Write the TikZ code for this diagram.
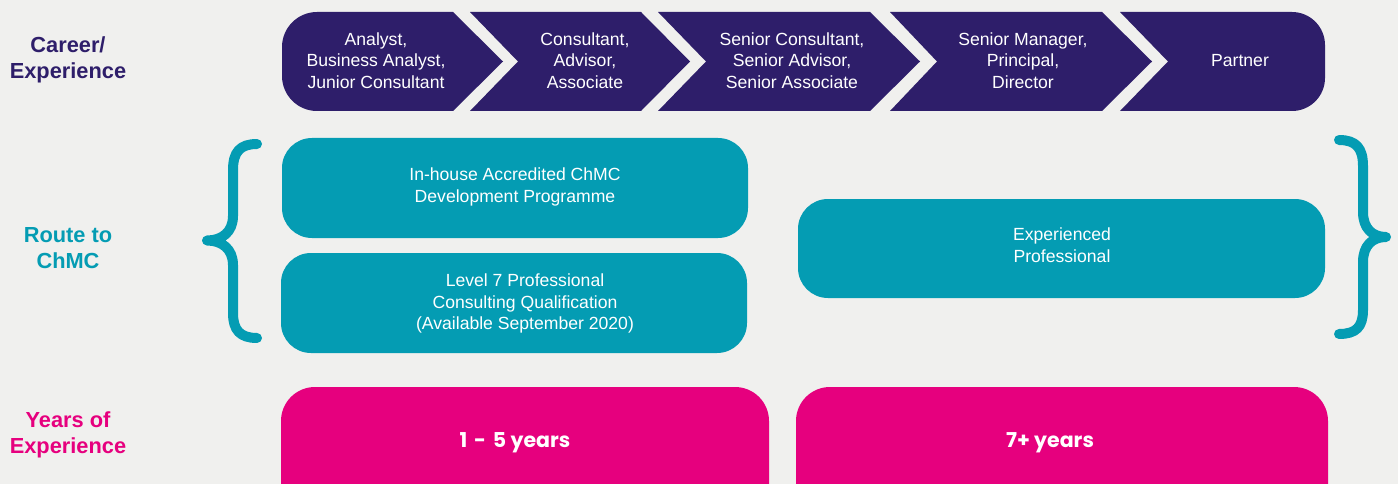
\documentclass[tikz,border=0pt]{standalone}
\usepackage{fontspec}
\setmainfont{Liberation Sans}
\newfontfamily\yearfont{Poppins}
\definecolor{bgc}{HTML}{F0F0EE}
\definecolor{purp}{HTML}{2E1E6A}
\definecolor{teal}{HTML}{049CB3}
\definecolor{pink}{HTML}{E6007E}
\tikzset{
  chev/.style={fill=purp},
  ctext/.style={text=white, align=center, inner sep=0pt, font=\fontsize{17.6}{21.5}\selectfont},
  lbl/.style={align=center, inner sep=0pt, font=\fontsize{21.8}{26}\selectfont\bfseries},
  tealbox/.style={fill=teal, rounded corners=30pt, inner sep=0pt},
  pinkbox/.style={fill=pink, rounded corners=34pt, inner sep=0pt},
  ytext/.style={text=white, inner sep=0pt, font=\yearfont\fontsize{20.5}{24}\selectfont\bfseries},
  bracestyle/.style={draw=teal, line width=10pt, line cap=round, line join=round}
}
\begin{document}
\begin{tikzpicture}[x=1pt,y=-1pt]
\fill[bgc] (0,0) rectangle (1398,484);
\useasboundingbox (0,0) rectangle (1398,484);
\clip (0,0) rectangle (1398,484);
% chevrons
\fill[chev] (453,12) -- (503,61.5) -- (453,111) -- (317,111)
  .. controls (297.7,111) and (282,95.3) .. (282,76) -- (282,47)
  .. controls (282,27.7) and (297.7,12) .. (317,12) -- cycle;
\fill[chev] (470,12) -- (641,12) -- (690,61.5) -- (641,111) -- (470,111) -- (518,61.5) -- cycle;
\fill[chev] (658,12) -- (870,12) -- (920,61.5) -- (870,111) -- (658,111) -- (706,61.5) -- cycle;
\fill[chev] (890,12) -- (1102,12) -- (1152,61.5) -- (1102,111) -- (890,111) -- (937,61.5) -- cycle;
\fill[chev] (1120,12) -- (1292,12) .. controls (1310.2,12) and (1325,26.8) .. (1325,45)
  -- (1325,78) .. controls (1325,96.2) and (1310.2,111) .. (1292,111) -- (1120,111) -- (1168,61.5) -- cycle;
\node[ctext] (c1) at (376,60.5) {Analyst,\\Business Analyst,\\Junior Consultant};
\node[ctext] (c2) at (585,60.5) {Consultant,\\Advisor,\\Associate};
\node[ctext] (c3) at (792,60.5) {Senior Consultant,\\Senior Advisor,\\Senior Associate};
\node[ctext] (c4) at (1023,60.5) {Senior Manager,\\Principal,\\Director};
\node[ctext] (c5) at (1240,61) {Partner};
% left labels
\node[lbl, text=purp] (l1) at (68,60) {Career/\\Experience};
\node[lbl, text=teal] (l2) at (68,248.5) {Route to\\ChMC};
\node[lbl, text=pink] (l3) at (68,434.5) {Years of\\Experience};
% teal boxes
\node[tealbox, minimum width=466pt, minimum height=100pt] (t1) at (515,188) {};
\node[tealbox, minimum width=466pt, minimum height=100pt] (t2) at (514,303) {};
\node[tealbox, minimum width=527pt, minimum height=99pt] (t3) at (1061.5,248.5) {};
\node[ctext] (t1t) at (515,187) {In-house Accredited ChMC\\Development Programme};
\node[ctext] (t2t) at (525,303.5) {Level 7 Professional\\Consulting Qualification\\(Available September 2020)};
\node[ctext] (t3t) at (1062,245) {Experienced\\Professional};
% braces
\draw[bracestyle] (257,144) .. controls (240,144) and (233,152) .. (233,170) -- (233,216)
  .. controls (233,232) and (222,240.5) .. (207,240.5)
  .. controls (222,240.5) and (233,249) .. (233,265) -- (233,313)
  .. controls (233,330) and (240,338) .. (257,338);
\draw[bracestyle] (1339,140) .. controls (1356,140) and (1363,148) .. (1363,166) -- (1363,212)
  .. controls (1363,228) and (1372,237) .. (1386,237)
  .. controls (1372,237) and (1363,246) .. (1363,262) -- (1363,310)
  .. controls (1363,327) and (1356,334) .. (1339,334);
% pink boxes
\node[pinkbox, minimum width=488pt, minimum height=140pt] (p1) at (525,457) {};
\node[pinkbox, minimum width=532pt, minimum height=140pt] (p2) at (1062,457) {};
\node[ytext] (p1t) at (515,442.5) {1\,\,-\,\,5 years};
\node[ytext] (p2t) at (1050,442.5) {7+ years};
\end{tikzpicture}
\end{document}
